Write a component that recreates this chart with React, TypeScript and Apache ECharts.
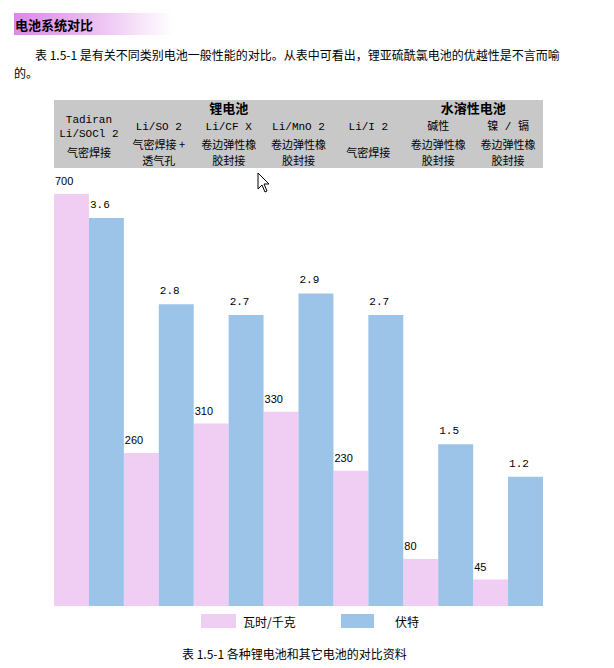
import React, { useEffect, useRef } from "react";
import * as echarts from "echarts";

// ---- data ----
const chemistries = ["Tadiran\nLi/SOCl 2", "Li/SO 2", "Li/CF X", "Li/MnO 2", "Li/I 2", "碱性", "镍 / 镉"];
const sealing = [
  "气密焊接",
  "气密焊接 +\n透气孔",
  "卷边弹性橡\n胶封接",
  "卷边弹性橡\n胶封接",
  "气密焊接",
  "卷边弹性橡\n胶封接",
  "卷边弹性橡\n胶封接",
];
const groupNames = ["锂电池", "水溶性电池"];
const groupSpans = [[1, 3], [5, 6]];
const seriesNames = ["瓦时/千克", "伏特"];
const energyWhPerKg = [700, 260, 310, 330, 230, 80, 45];
const voltageV = [3.6, 2.8, 2.7, 2.9, 2.7, 1.5, 1.2];

const sectionTitle = "电池系统对比";
const paragraphLine1 = "表 1.5-1 是有关不同类别电池一般性能的对比。从表中可看出，锂亚硫酰氯电池的优越性是不言而喻";
const paragraphLine2 = "的。";
const caption = "表 1.5-1 各种锂电池和其它电池的对比资料";

const CJK = '"Noto Sans CJK SC", "Noto Sans", sans-serif';
const MONO = '"Liberation Mono", "Noto Sans CJK SC", monospace';
const PINK = "#f0cdf3";
const BLUE = "#9cc3e8";

export default function App() {
  const ref = useRef<HTMLDivElement>(null);

  useEffect(() => {
    if (!ref.current) return;
    const chart = echarts.init(ref.current, null, { renderer: "svg" });
    const blueMax = (3.6 * 412) / 388;
    chart.setOption({
      animation: false,
      backgroundColor: "#ffffff",
      grid: { left: 54, right: 71, top: 194, bottom: 62, containLabel: false },
      xAxis: {
        type: "category",
        data: chemistries,
        show: false,
        boundaryGap: true,
      },
      yAxis: [
        { type: "value", min: 0, max: 700, show: false },
        { type: "value", min: 0, max: blueMax, show: false },
      ],
      legend: [
        {
          data: [seriesNames[0]],
          left: 201,
          top: 614,
          padding: 0,
          itemWidth: 35,
          itemHeight: 14,
          icon: "rect",
          selectedMode: false,
          textStyle: { fontFamily: CJK, fontSize: 12, color: "#000", padding: [0, 0, 0, 2] },
        },
        {
          data: [seriesNames[1]],
          left: 341,
          top: 614,
          padding: 0,
          itemWidth: 33,
          itemHeight: 14,
          icon: "rect",
          selectedMode: false,
          textStyle: { fontFamily: CJK, fontSize: 12, color: "#000", padding: [0, 0, 0, 16] },
        },
      ],
      series: [
        {
          name: seriesNames[0],
          type: "bar",
          yAxisIndex: 0,
          data: energyWhPerKg,
          barGap: "0%",
          barCategoryGap: "0%",
          itemStyle: { color: PINK },
          label: {
            show: true,
            position: [1, -13],
            align: "left",
            verticalAlign: "middle",
            fontFamily: '"Liberation Sans", sans-serif',
            fontSize: 11,
            color: "#000",
          },
        },
        {
          name: seriesNames[1],
          type: "bar",
          yAxisIndex: 1,
          data: voltageV,
          barGap: "0%",
          barCategoryGap: "0%",
          itemStyle: { color: BLUE },
          label: {
            show: true,
            position: [1, -13],
            align: "left",
            verticalAlign: "middle",
            fontFamily: MONO,
            fontSize: 11,
            color: "#000",
          },
        },
      ],
    });

    const px = (i: number) => chart.convertToPixel({ xAxisIndex: 0 }, i) as number;
    const graphic: any[] = [
      // section title banner
      {
        type: "rect",
        shape: { x: 14, y: 13, width: 159, height: 22 },
        style: {
          fill: new echarts.graphic.LinearGradient(0, 0, 1, 0, [
            { offset: 0, color: "#dc88e8" },
            { offset: 0.45, color: "#eab8f0" },
            { offset: 1, color: "#ffffff" },
          ]),
        },
        silent: true,
      },
      {
        type: "text",
        style: {
          text: sectionTitle,
          x: 15,
          y: 24,
          verticalAlign: "middle",
          font: `bold 13px ${CJK}`,
          fill: "#000",
        },
      },
      {
        type: "text",
        style: { text: paragraphLine1, x: 35, y: 54, verticalAlign: "middle", font: `12px ${CJK}`, fill: "#000" },
      },
      {
        type: "text",
        style: { text: paragraphLine2, x: 14, y: 72, verticalAlign: "middle", font: `12px ${CJK}`, fill: "#000" },
      },
      // header table background
      {
        type: "rect",
        shape: { x: 54, y: 100, width: 489, height: 68 },
        style: { fill: "#c8c8c8" },
        silent: true,
      },
      {
        type: "text",
        style: { text: caption, x: 182, y: 653, verticalAlign: "middle", font: `12px ${CJK}`, fill: "#000" },
      },
      // mouse cursor
      {
        type: "polygon",
        x: 258,
        y: 173,
        shape: {
          points: [
            [0, 0],
            [0, 16],
            [4, 12],
            [7, 19],
            [9, 18],
            [6, 11],
            [11, 11],
          ],
        },
        style: { fill: "#ffffff", stroke: "#000000", lineWidth: 1 },
      },
    ];

    groupNames.forEach((g, k) => {
      const [a, b] = groupSpans[k];
      graphic.push({
        type: "text",
        style: {
          text: g,
          x: (px(a) + px(b)) / 2,
          y: 107,
          align: "center",
          verticalAlign: "middle",
          font: `bold 13px ${CJK}`,
          fill: "#000",
        },
      });
    });

    chemistries.forEach((c, i) => {
      graphic.push({
        type: "text",
        style: {
          text: c,
          x: px(i),
          y: 127,
          align: "center",
          verticalAlign: "middle",
          lineHeight: 14,
          font: `11px ${MONO}`,
          fill: "#000",
        },
      });
      graphic.push({
        type: "text",
        style: {
          text: sealing[i],
          x: px(i),
          y: 152,
          align: "center",
          verticalAlign: "middle",
          lineHeight: 16,
          font: `11px ${CJK}`,
          fill: "#000",
        },
      });
    });

    chart.setOption({ graphic });

    return () => chart.dispose();
  }, []);

  return (
    <div
      ref={ref}
      style={{ position: "absolute", left: 0, top: 0, width: 614, height: 668, background: "#fff" }}
    />
  );
}
